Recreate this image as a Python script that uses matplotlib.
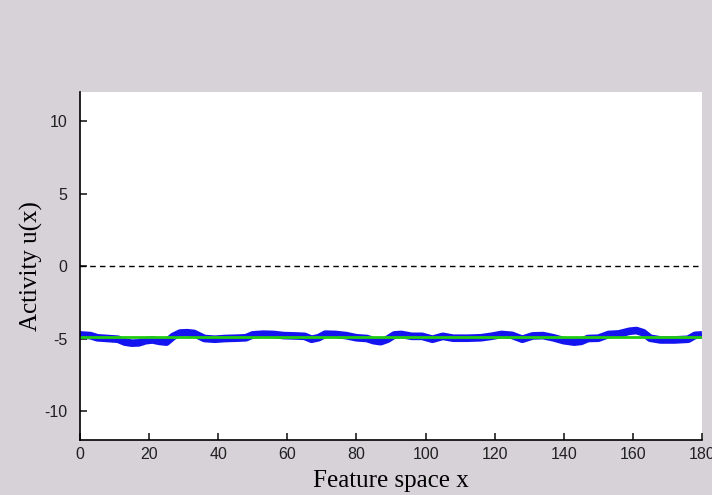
import numpy as np
import matplotlib.pyplot as plt

plt.rcParams["axes.unicode_minus"] = False

# activity profile (feature position, activity)
feature_x = [0, 3, 5, 8, 11, 13, 15, 17, 19, 21, 23, 25, 27, 29, 31, 33,
             36, 39, 42, 45, 48, 50, 53, 56, 59, 62, 65, 67, 69, 71, 74,
             77, 80, 83, 85, 87, 89, 91, 93, 96, 99, 102, 105, 108, 112,
             116, 119, 122, 125, 128, 131, 134, 137, 140, 143, 145, 147,
             150, 153, 156, 159, 161, 163, 165, 168, 172, 176, 178, 180]
activity_u = [-4.75, -4.8, -4.95, -5.0, -5.05, -5.25, -5.32, -5.3, -5.15,
              -5.1, -5.2, -5.25, -4.85, -4.62, -4.6, -4.65, -5.0, -5.05,
              -5.0, -4.98, -4.95, -4.75, -4.7, -4.72, -4.8, -4.82, -4.85,
              -5.05, -4.95, -4.7, -4.72, -4.8, -4.95, -5.0, -5.15, -5.22,
              -5.05, -4.75, -4.72, -4.85, -4.85, -5.05, -4.85, -4.98, -4.98,
              -4.95, -4.85, -4.72, -4.78, -5.05, -4.82, -4.8, -4.95, -5.15,
              -5.25, -5.2, -5.0, -4.98, -4.72, -4.68, -4.5, -4.45, -4.6,
              -4.98, -5.1, -5.1, -5.05, -4.78, -4.75]
resting_level = -4.9

fig = plt.figure(figsize=(7.12, 4.95), dpi=100)
fig.patch.set_facecolor("#d6d2d8")
ax = fig.add_axes([0.1124, 0.1111, 0.8736, 0.703])
ax.set_facecolor("white")

ax.axhline(0, color="black", lw=1.0, ls=(0, (4, 3)))
ax.plot(feature_x, activity_u, color="#1414f0", lw=5.5, solid_capstyle="butt")
ax.axhline(resting_level, color="#22cc11", lw=2)

ax.set_xlim(0, 180)
ax.set_ylim(-12, 12)
ax.set_xticks(np.arange(0, 181, 20))
ax.set_yticks([-10, -5, 0, 5, 10])

for side in ["top", "right"]:
    ax.spines[side].set_visible(False)
for side in ["left", "bottom"]:
    ax.spines[side].set_linewidth(1.2)
ax.tick_params(direction="in", length=5, width=1.2, labelsize=11.5, colors="#202020")
ax.tick_params(axis="x", pad=5)
ax.tick_params(axis="y", pad=9)
for lbl in ax.get_xticklabels() + ax.get_yticklabels():
    lbl.set_family("Liberation Sans")

ax.set_xlabel("Feature space x", family="Liberation Serif", fontsize=18, labelpad=6)
ax.set_ylabel("Activity u(x)", family="Liberation Serif", fontsize=18, labelpad=1)

fig.savefig("out.png", dpi=100, facecolor=fig.get_facecolor())
